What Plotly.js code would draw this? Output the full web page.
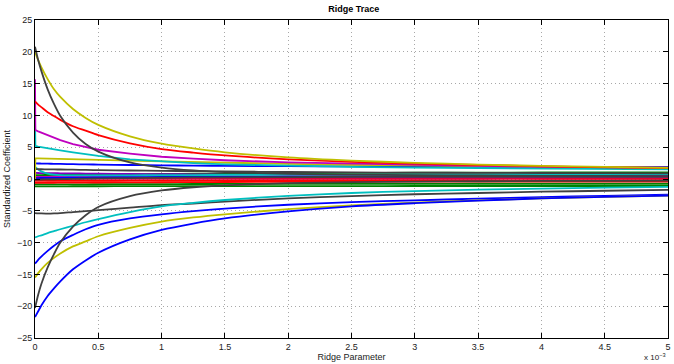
<!DOCTYPE html>
<html>
<head>
<meta charset="utf-8">
<script src="https://cdn.plot.ly/plotly-3.0.1.min.js"></script>
<style>html,body{margin:0;padding:0;background:#fff}#chart{width:674px;height:364px}</style>
</head>
<body>
<div id="chart"></div>
<script>
// Ridge parameter (in units of 1e-3)
const ridgeK = [0, 0.003, 0.025, 0.05, 0.1, 0.15, 0.2, 0.3, 0.4, 0.5, 0.75, 1, 1.25, 1.5, 2, 2.5, 3, 3.5, 4, 4.5, 5];

// Standardized coefficients, one array per predictor
const coefYellowA  = [20.0, 19.8, 18.7, 17.6, 15.7, 14.1, 12.9, 11.0, 9.6, 8.5, 6.7, 5.55, 4.8, 4.2, 3.4, 2.9, 2.55, 2.27, 2.07, 1.91, 1.77];
const coefGrayA    = [20.8, 20.5, 18.7, 17.0, 14.1, 11.8, 9.9, 7.3, 5.5, 4.3, 2.6, 1.8, 1.35, 1.1, 0.82, 0.68, 0.6, 0.55, 0.5, 0.48, 0.45];
const coefRedA     = [12.2, 12.1, 11.7, 11.3, 10.5, 9.9, 9.3, 8.3, 7.6, 6.9, 5.6, 4.7, 4.15, 3.7, 3.1, 2.7, 2.42, 2.2, 2.0, 1.85, 1.72];
const coefMagentaA = [15.7, 7.7, 7.5, 7.3, 6.9, 6.5, 6.1, 5.5, 5.0, 4.6, 4.0, 3.5, 3.2, 2.95, 2.6, 2.4, 2.2, 2.05, 1.95, 1.85, 1.78];
const coefCyanA    = [10.0, 5.2, 5.1, 5.0, 4.8, 4.65, 4.5, 4.2, 3.9, 3.65, 3.1, 2.75, 2.5, 2.3, 2.05, 1.9, 1.8, 1.7, 1.62, 1.56, 1.5];
const coefYellowB  = [0.0, 3.25, 3.25, 3.24, 3.22, 3.2, 3.18, 3.12, 3.06, 3.0, 2.88, 2.76, 2.65, 2.55, 2.38, 2.22, 2.1, 1.98, 1.88, 1.8, 1.72];
const coefBlueA    = [2.45, 2.45, 2.44, 2.43, 2.41, 2.39, 2.37, 2.33, 2.3, 2.27, 2.2, 2.15, 2.1, 2.07, 2.02, 1.98, 1.95, 1.93, 1.91, 1.9, 1.9];
const coefGrayB    = [1.55, 1.55, 1.54, 1.53, 1.52, 1.5, 1.49, 1.46, 1.43, 1.4, 1.34, 1.28, 1.23, 1.18, 1.1, 1.04, 1.0, 0.97, 0.94, 0.92, 0.9];
const coefCyanB    = [1.9, 1.85, 1.5, 1.2, 0.85, 0.7, 0.62, 0.58, 0.57, 0.57, 0.58, 0.6, 0.62, 0.64, 0.68, 0.7, 0.72, 0.74, 0.75, 0.76, 0.77];
const coefMagentaB = [0.95, 0.95, 0.94, 0.93, 0.92, 0.91, 0.9, 0.88, 0.86, 0.84, 0.8, 0.76, 0.73, 0.7, 0.66, 0.63, 0.61, 0.6, 0.59, 0.58, 0.58];
const coefGreenA   = [0.6, 0.6, 0.61, 0.62, 0.63, 0.64, 0.65, 0.67, 0.69, 0.71, 0.75, 0.79, 0.83, 0.86, 0.91, 0.95, 0.98, 1.0, 1.02, 1.04, 1.05];
const coefRedB     = [0.3, 0.3, 0.3, 0.3, 0.3, 0.3, 0.3, 0.3, 0.3, 0.3, 0.3, 0.3, 0.3, 0.3, 0.29, 0.29, 0.28, 0.28, 0.28, 0.27, 0.27];
const coefRedC     = [0.0, 0.0, 0.0, 0.0, 0.0, 0.0, 0.01, 0.01, 0.01, 0.01, 0.02, 0.02, 0.02, 0.03, 0.03, 0.04, 0.04, 0.04, 0.05, 0.05, 0.05];
const coefRedD     = [-0.3, -0.3, -0.3, -0.3, -0.3, -0.3, -0.3, -0.29, -0.29, -0.28, -0.27, -0.26, -0.25, -0.24, -0.23, -0.22, -0.21, -0.21, -0.2, -0.2, -0.2];
const coefRedE     = [-0.6, -0.6, -0.6, -0.6, -0.59, -0.59, -0.58, -0.57, -0.56, -0.55, -0.53, -0.51, -0.49, -0.47, -0.45, -0.43, -0.42, -0.41, -0.4, -0.4, -0.4];
const coefGreenB   = [-1.15, -1.15, -1.15, -1.15, -1.15, -1.15, -1.15, -1.14, -1.14, -1.14, -1.13, -1.13, -1.12, -1.12, -1.11, -1.11, -1.1, -1.1, -1.1, -1.1, -1.1];
const coefGreenC   = [-0.85, -0.85, -0.85, -0.85, -0.85, -0.84, -0.84, -0.83, -0.83, -0.82, -0.81, -0.8, -0.79, -0.78, -0.77, -0.76, -0.76, -0.75, -0.75, -0.75, -0.75];
const coefBlueB    = [0.15, 0.15, 0.15, 0.16, 0.17, 0.18, 0.19, 0.21, 0.23, 0.25, 0.29, 0.32, 0.35, 0.37, 0.4, 0.42, 0.43, 0.44, 0.45, 0.45, 0.45];
const coefMagentaC = [0.45, 0.45, 0.45, 0.45, 0.44, 0.44, 0.43, 0.42, 0.41, 0.4, 0.38, 0.36, 0.35, 0.34, 0.33, 0.32, 0.31, 0.31, 0.3, 0.3, 0.3];
const coefGrayC    = [-0.1, -0.1, -0.09, -0.08, -0.06, -0.04, -0.02, 0.02, 0.06, 0.09, 0.15, 0.2, 0.24, 0.27, 0.3, 0.32, 0.33, 0.34, 0.35, 0.35, 0.35];
const coefGrayD    = [-5.35, -5.36, -5.4, -5.42, -5.43, -5.4, -5.35, -5.2, -5.05, -4.9, -4.5, -4.1, -3.85, -3.55, -3.05, -2.7, -2.4, -2.2, -2.0, -1.85, -1.7];
const coefCyanC    = [-9.2, -9.18, -9.0, -8.85, -8.5, -8.2, -7.9, -7.35, -6.8, -6.3, -5.2, -4.3, -3.75, -3.3, -2.65, -2.2, -1.9, -1.68, -1.5, -1.35, -1.25];
const coefBlueC    = [-13.3, -13.2, -12.7, -12.2, -11.3, -10.5, -9.8, -8.8, -7.9, -7.2, -6.2, -5.55, -5.05, -4.65, -4.05, -3.65, -3.35, -3.1, -2.85, -2.65, -2.45];
const coefYellowC  = [-15.5, -15.4, -14.8, -14.2, -13.2, -12.4, -11.7, -10.6, -9.8, -9.0, -7.7, -6.7, -6.05, -5.55, -4.75, -4.15, -3.7, -3.35, -3.05, -2.8, -2.6];
const coefBlueD    = [-21.7, -21.6, -20.8, -19.9, -18.4, -17.2, -16.1, -14.2, -12.8, -11.6, -9.5, -8.0, -7.0, -6.2, -5.1, -4.3, -3.8, -3.4, -3.06, -2.8, -2.6];
const coefGrayE    = [-20.3, -19.9, -18.2, -16.5, -13.9, -11.8, -10.0, -7.5, -5.7, -4.4, -2.7, -1.8, -1.3, -1.0, -0.65, -0.5, -0.4, -0.35, -0.3, -0.28, -0.25];

// [values, colour, has a jump at k = 0]
const series = [
  [coefGreenB, '#008000', false], [coefGreenC, '#008000', false], [coefRedE, '#ff0000', false], [coefRedD, '#ff0000', false],
  [coefRedC, '#e0003c', false], [coefRedB, '#ff0000', false], [coefMagentaC, '#bf00bf', false], [coefBlueB, '#0000ff', false],
  [coefGrayC, '#404040', false], [coefGreenA, '#008000', false], [coefMagentaB, '#8000bf', false], [coefCyanB, '#00bfbf', false],
  [coefGrayB, '#404040', false], [coefBlueA, '#0000ff', false], [coefYellowB, '#bfbf00', true], [coefCyanA, '#00bfbf', true],
  [coefMagentaA, '#bf00bf', true], [coefRedA, '#ff0000', false], [coefYellowA, '#bfbf00', false], [coefGrayA, '#404040', false],
  [coefGrayD, '#404040', false], [coefCyanC, '#00bfbf', false], [coefBlueC, '#0000ff', false], [coefYellowC, '#bfbf00', false],
  [coefBlueD, '#0000ff', false], [coefGrayE, '#404040', false]
];

const traces = series.map(([vals, col, jump]) => {
  // smooth curves skip the tiny first step, which only carries the jumps at k = 0
  const keep = ridgeK.map((_, i) => jump || i !== 1);
  return {
    x: ridgeK.filter((_, i) => keep[i]), y: vals.filter((_, i) => keep[i]),
    type: 'scatter', mode: 'lines',
    line: jump ? {color: col, width: 1.8} : {color: col, width: 1.8, shape: 'spline', smoothing: 0.8},
    hoverinfo: 'skip', showlegend: false
  };
});

const xTicks = [0, 0.5, 1, 1.5, 2, 2.5, 3, 3.5, 4, 4.5, 5];
const xTickText = ['0', '0.5', '1', '1.5', '2', '2.5', '3', '3.5', '4', '4.5', '5'];
const yTicks = [-25, -20, -15, -10, -5, 0, 5, 10, 15, 20, 25];

const axisCommon = {
  showline: true, linecolor: '#000', linewidth: 1, mirror: 'ticks',
  ticks: 'inside', ticklen: 5, tickcolor: '#000', tickwidth: 1,
  showgrid: true, gridcolor: '#a8a8a8', griddash: '1px,3px', gridwidth: 1,
  zeroline: false, tickfont: {family: 'Liberation Sans, Arial, sans-serif', size: 9, color: '#222'}
};

const layout = {
  width: 674, height: 364,
  margin: {l: 35, r: 6, t: 20, b: 26},
  paper_bgcolor: '#fff', plot_bgcolor: '#fff',
  font: {family: 'Liberation Sans, Arial, sans-serif', size: 9, color: '#222'},
  title: {text: '<b>Ridge Trace</b>', x: 0.525, xanchor: 'center', y: 0.985, yanchor: 'top',
          font: {size: 9, color: '#000'}},
  xaxis: Object.assign({}, axisCommon, {
    range: [0, 5], tickvals: xTicks, ticktext: xTickText,
    title: {text: 'Ridge Parameter', standoff: 0, font: {size: 9}}
  }),
  yaxis: Object.assign({}, axisCommon, {
    range: [-25, 25], tickvals: yTicks,
    title: {text: 'Standardized Coefficient', standoff: 4, font: {size: 9}}
  }),
  annotations: [{
    text: 'x 10<sup>−3</sup>', xref: 'paper', yref: 'paper', x: 1.0, y: -0.083,
    xanchor: 'right', yanchor: 'bottom', showarrow: false, font: {size: 8, color: '#222'}
  }]
};

Plotly.newPlot('chart', traces, layout, {staticPlot: true, displayModeBar: false});
</script>
</body>
</html>
